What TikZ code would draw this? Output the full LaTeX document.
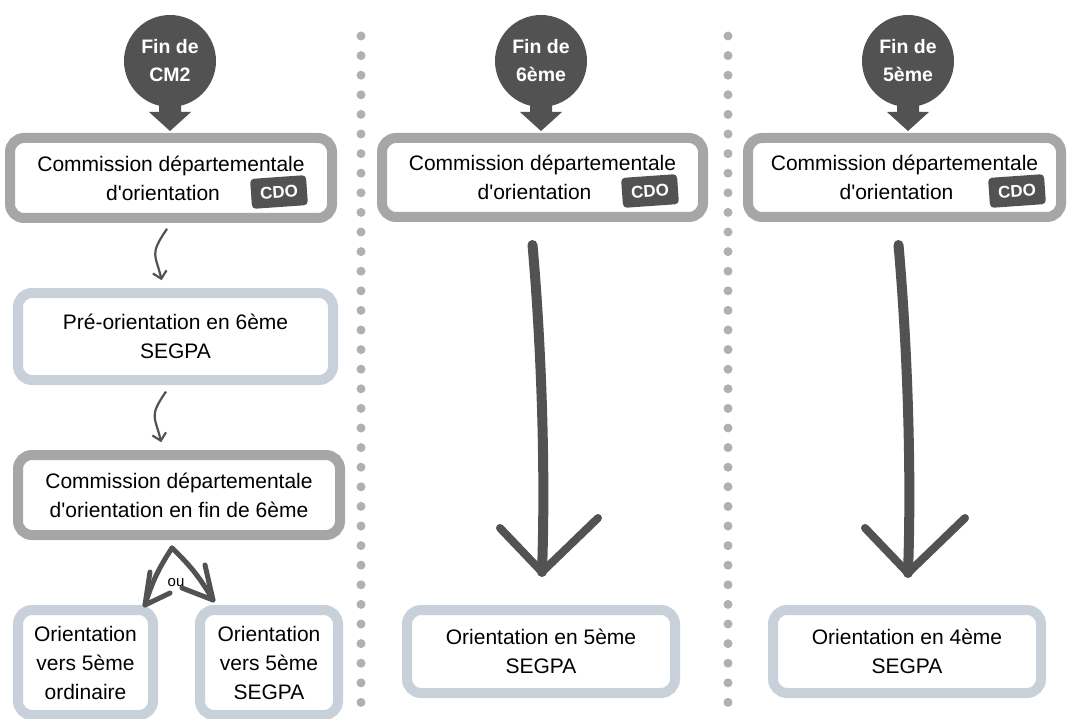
\documentclass[tikz,border=0pt]{standalone}
\usepackage{fontspec}
\setmainfont{Liberation Sans}
\usetikzlibrary{arrows.meta}
\usetikzlibrary{calc}

\definecolor{inkgray}{HTML}{525252}
\definecolor{framegray}{HTML}{A6A6A6}
\definecolor{frameblue}{HTML}{C8D0D9}
\definecolor{dotgray}{HTML}{B0B0B0}

\tikzset{
  greybox/.style={draw=framegray, line width=10pt, rounded corners=14pt, fill=white,
    align=center, inner sep=0pt, font=\fontsize{21}{29}\selectfont},
  bluebox/.style={greybox, draw=frameblue},
  milestone/.style={circle, fill=inkgray, text=white, minimum size=92pt, inner sep=0pt,
    align=center, font=\fontsize{19.5}{28}\selectfont\bfseries},
  cdobadge/.style={fill=inkgray, text=white, rounded corners=4pt, minimum width=56pt,
    minimum height=30pt, inner sep=0pt, rotate=4, font=\fontsize{17}{17}\selectfont\bfseries},
  curvearrow/.style={draw=inkgray, line width=2.2pt, -{Straight Barb[length=7pt,width=14pt]}},
  forkline/.style={draw=inkgray, line width=5pt, line cap=round, line join=round},
  brush/.style={draw=inkgray, line width=10pt, line cap=round, line join=round},
}

\begin{document}
\begin{tikzpicture}[x=1pt,y=1pt]
        \useasboundingbox (0,0) rectangle (1067,-719);

        % dotted separators
        \foreach \k in {0,...,34} {
          \fill[dotgray] (361,-36-19.6*\k) circle (4.5pt);
          \fill[dotgray] (728,-36-19.6*\k) circle (4.5pt);
        }

        % column 1: fin de CM2
        \node[milestone] (pinA) at (170,-61) {Fin de\\CM2};
        \node[greybox, minimum width=322pt, minimum height=80pt] (cdoA) at (171,-178)
          {Commission départementale\\d\textquotesingle orientation\hspace*{16pt}};
        \node[cdobadge] (badgeA) at ($(cdoA.center)+(108,-14)$) {CDO};
        \node[bluebox, minimum width=315pt, minimum height=87pt] (preo) at (175.5,-336.5)
          {Pré-orientation en 6ème\\SEGPA};
        \node[greybox, minimum width=322pt, minimum height=80pt] (cdoSix) at (179,-495)
          {Commission départementale\\d\textquotesingle orientation en fin de 6ème};
        \node[bluebox, minimum width=135pt, minimum height=105pt] (ordi) at (85.5,-662.5)
          {Orientation\\vers 5ème\\ordinaire};
        \node[bluebox, minimum width=138pt, minimum height=105pt] (segA) at (269,-662.5)
          {Orientation\\vers 5ème\\SEGPA};

        \draw[curvearrow, shorten <=7pt, shorten >=8pt] (cdoA.south)
          .. controls +(-22,-32) and +(-8,34) .. ([xshift=-12pt]preo.north);
        \draw[curvearrow, shorten <=8pt, shorten >=8pt] ([xshift=-5pt]preo.south)
          .. controls +(-22,-32) and +(-8,34) .. ([xshift=-16pt]cdoSix.north);

        \coordinate (fork) at ($(cdoSix.south)+(-7,-8)$);
        \coordinate (tipL) at ($(ordi.north east)+(-13,0)$);
        \coordinate (tipR) at ($(segA.north west)+(18,5)$);
        \draw[forkline] (fork) to[bend right=8] (tipL);
        \draw[forkline] (fork) to[bend left=8] (tipR);
        \draw[forkline] ($(tipL)+(5,33)$) -- (tipL) -- ($(tipL)+(25,12)$);
        \draw[forkline] ($(tipR)+(-8,35)$) -- (tipR) -- ($(tipR)+(-31,12)$);
        \node[font=\fontsize{15}{15}\selectfont] (ou) at (176,-583) {ou};

        % column 2: fin de 6eme
        \node[milestone] (pinB) at (541,-61) {Fin de\\6ème};
        \node[greybox, minimum width=321pt, minimum height=79pt] (cdoB) at (542.5,-177.5)
          {Commission départementale\\d\textquotesingle orientation\hspace*{16pt}};
        \node[cdobadge] (badgeB) at ($(cdoB.center)+(107.5,-13.5)$) {CDO};
        \node[bluebox, minimum width=268pt, minimum height=83pt] (segB) at (541,-651.5)
          {Orientation en 5ème\\SEGPA};
        \coordinate (tailB) at ($(cdoB.south)+(-10,-23)$);
        \coordinate (tipB) at ($(segB.north)+(1,33)$);
        \draw[brush] (tailB) .. controls +(8,-90) and +(4,110) .. (tipB);
        \draw[brush, line width=8pt] ($(tipB)+(-42,44)$) -- (tipB) -- ($(tipB)+(56,54)$);

        % column 3: fin de 5eme
        \node[milestone] (pinC) at (908,-61) {Fin de\\5ème};
        \node[greybox, minimum width=313pt, minimum height=79pt] (cdoC) at (904.5,-177.5)
          {Commission départementale\\d\textquotesingle orientation\hspace*{16pt}};
        \node[cdobadge] (badgeC) at ($(cdoC.center)+(112.5,-13.5)$) {CDO};
        \node[bluebox, minimum width=268pt, minimum height=83pt] (segC) at (907,-651.5)
          {Orientation en 4ème\\SEGPA};
        \coordinate (tailC) at ($(cdoC.south)+(-6,-23)$);
        \coordinate (tipC) at ($(segC.north)+(1,32)$);
        \draw[brush] (tailC) .. controls +(8,-90) and +(4,110) .. (tipC);
        \draw[brush, line width=8pt] ($(tipC)+(-43,45)$) -- (tipC) -- ($(tipC)+(57,55)$);

        % pointers under the pins
        \foreach \p in {pinA,pinB,pinC}
          \fill[inkgray] ($(\p)+(-11,-38)$) -- ++(22,0) -- ++(0,-13) -- ++(10,0)
            -- ++(-21,-19) -- ++(-21,19) -- ++(10,0) -- cycle;
      \end{tikzpicture}
\end{document}
